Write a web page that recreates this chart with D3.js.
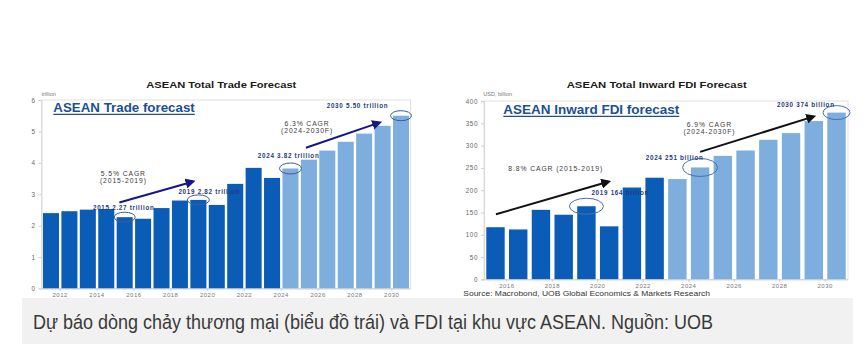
<!DOCTYPE html>
<html>
<head>
<meta charset="utf-8">
<script src="https://cdn.jsdelivr.net/npm/d3@7"></script>
<style>
  html, body { margin: 0; padding: 0; background: #fff; }
  svg { display: block; font-family: "Liberation Sans", Arial, sans-serif; }
</style>
</head>
<body>
<svg id="chart" width="868" height="350"></svg>
<script>
// ---------------- DATA ----------------
const tradeYears = [2011, 2012, 2013, 2014, 2015, 2016, 2017, 2018, 2019, 2020,
                    2021, 2022, 2023, 2024, 2025, 2026, 2027, 2028, 2029, 2030];
const tradeValues = [2.40, 2.46, 2.51, 2.53, 2.27, 2.22, 2.56, 2.80, 2.82, 2.66,
                     3.33, 3.84, 3.52, 3.82, 4.10, 4.39, 4.67, 4.93, 5.18, 5.50];
const tradeForecastFrom = 2024;
const tradeYTicks = [0, 1, 2, 3, 4, 5, 6];
const tradeXTicks = [2012, 2014, 2016, 2018, 2020, 2022, 2024, 2026, 2028, 2030];

const fdiYears = [2015, 2016, 2017, 2018, 2019, 2020, 2021, 2022,
                  2023, 2024, 2025, 2026, 2027, 2028, 2029, 2030];
const fdiValues = [117, 112, 156, 145, 164, 119, 206, 228,
                   225, 251, 277, 289, 313, 328, 355, 374];
const fdiForecastFrom = 2023;
const fdiYTicks = [0, 50, 100, 150, 200, 250, 300, 350, 400];
const fdiXTicks = [2016, 2018, 2020, 2022, 2024, 2026, 2028, 2030];

// annotation anchors in data units (year, value)
const tradeHighlights = [
  {year: 2015, text: "2015 2.27 trillion", lx: 2014.95, lv: 2.51, rx: 10.5, ry: 5},
  {year: 2019, text: "2019 2.82 trillion", lx: 2019.59, lv: 3.02, rx: 11, ry: 5},
  {year: 2024, text: "2024 3.82 trillion", lx: 2023.90, lv: 4.14, rx: 11, ry: 5.5},
  {year: 2030, text: "2030 5.50 trillion", lx: 2027.64, lv: 5.73, rx: 10.5, ry: 5}
];
const tradeCagr = [
  {lines: ["5.5% CAGR", "(2015-2019)"], x: 2014.93, v: [3.57, 3.36], from: [2014.71, 2.74], to: [2018.69, 3.40]},
  {lines: ["6.3% CAGR", "(2024-2030F)"], x: 2024.90, v: [5.16, 4.96], from: [2024.84, 4.48], to: [2028.82, 5.28]}
];
const fdiHighlights = [
  {year: 2019, text: "2019 164 billion", lx: 2020.49, lv: 189, rx: 17, ry: 8},
  {year: 2024, text: "2024 251 billion", lx: 2022.88, lv: 267, rx: 17.5, ry: 9},
  {year: 2030, text: "2030 374 billion", lx: 2028.65, lv: 386, rx: 13.5, ry: 7}
];
const fdiCagr = [
  {lines: ["8.8% CAGR (2015-2019)"], x: 2017.65, v: [243], from: [2015.02, 146], to: [2019.96, 219]},
  {lines: ["6.9% CAGR", "(2024-2030F)"], x: 2024.41, v: [341, 326], from: [2024.00, 286], to: [2028.98, 365]}
];

// ---------------- DRAW ----------------
const svg = d3.select("#chart");
const defs = svg.append("defs");
function marker(id, color) {
  defs.append("marker").attr("id", id).attr("viewBox", "0 0 10 10")
    .attr("refX", 7).attr("refY", 5).attr("markerWidth", 5).attr("markerHeight", 5)
    .attr("orient", "auto")
    .append("path").attr("d", "M0,0 L10,5 L0,10 z").attr("fill", color);
}
marker("arrNavy", "#16168a");
marker("arrBlack", "#111");

function txt(g, str, x, y, o) {
  const t = g.append("text").attr("x", x).attr("y", y).text(str)
    .attr("font-size", o.size || 7)
    .attr("fill", o.color || "#333")
    .attr("text-anchor", o.anchor || "start");
  if (o.bold) t.attr("font-weight", "bold");
  if (o.width) t.attr("textLength", o.width).attr("lengthAdjust", "spacingAndGlyphs");
  if (o.ls) t.attr("letter-spacing", o.ls);
  return t;
}

function drawChart(cfg) {
  const g = svg.append("g");
  const x = d3.scaleBand().domain(cfg.years).range(cfg.xRange)
    .paddingInner(cfg.padIn).paddingOuter(cfg.padOut);
  const y = d3.scaleLinear().domain(cfg.yDomain).range(cfg.yRange);
  const step = x.step(), bw = x.bandwidth();
  const xc = t => x(cfg.years[0]) + bw / 2 + (t - cfg.years[0]) * step;
  const boundary = yr => x(yr) - step * cfg.padIn / 2;

  // title
  txt(g, cfg.title, cfg.titleX, 87.5, {size: 8.5, bold: true, color: "#1a1a1a", anchor: "middle", width: cfg.titleW});
  // unit
  txt(g, cfg.unit, cfg.xRange[0] + cfg.unitDx, 95.8, {size: 5.5, color: "#777"});

  // frame
  g.append("rect").attr("x", cfg.xRange[0]).attr("y", y(cfg.yDomain[1]))
    .attr("width", cfg.xRange[1] - cfg.xRange[0]).attr("height", y(0) - y(cfg.yDomain[1]))
    .attr("fill", "none").attr("stroke", "#e2e2e2").attr("stroke-width", 1);

  // y axis
  const ya = d3.axisLeft(y).tickValues(cfg.yTicks).tickFormat(d3.format("d")).tickSize(3).tickPadding(3);
  const yg = g.append("g").attr("transform", `translate(${cfg.xRange[0]},0)`).call(ya);
  yg.select(".domain").attr("stroke", "#d8d8d8");
  yg.selectAll(".tick line").attr("stroke", "#cfcfcf");
  yg.selectAll(".tick text").attr("font-size", 6.3).attr("fill", "#666")
    .attr("font-family", "Liberation Sans, Arial").attr("letter-spacing", 0.6);

  // bars
  g.selectAll("rect.bar").data(cfg.years).join("rect").attr("class", "bar")
    .attr("x", d => x(d)).attr("width", bw)
    .attr("y", (d, i) => y(cfg.values[i]))
    .attr("height", (d, i) => y(0) - y(cfg.values[i]))
    .attr("fill", d => d >= cfg.forecastFrom ? "#7eaedd" : "#0b5cb7");

  // x axis
  const xg = g.append("g");
  xg.append("line").attr("x1", cfg.xRange[0]).attr("x2", cfg.xRange[1])
    .attr("y1", y(0) + 0.5).attr("y2", y(0) + 0.5).attr("stroke", "#d0d0d0");
  cfg.xTicks.forEach(yr => {
    const px = boundary(yr);
    xg.append("line").attr("x1", px).attr("x2", px).attr("y1", y(0)).attr("y2", y(0) + 2.5)
      .attr("stroke", "#cfcfcf");
    txt(xg, String(yr), px, y(0) + cfg.xLabelDy, {size: 6, color: "#777", anchor: "middle", ls: 0.5});
  });

  // heading
  txt(g, cfg.heading, cfg.headX, cfg.headY, {size: 13.5, bold: true, color: "#1c4f94", width: cfg.headW});
  g.append("line").attr("x1", cfg.headX).attr("x2", cfg.headX + cfg.headW)
    .attr("y1", cfg.headY + 2.3).attr("y2", cfg.headY + 2.3)
    .attr("stroke", "#1c4f94").attr("stroke-width", 1.2);

  // CAGR annotations
  cfg.cagr.forEach(c => {
    c.lines.forEach((ln, k) => {
      txt(g, ln, xc(c.x), y(c.v[k]), {size: 6.8, color: "#3a3a3a", anchor: "middle", ls: 0.9});
    });
    g.append("line").attr("x1", xc(c.from[0])).attr("y1", y(c.from[1]))
      .attr("x2", xc(c.to[0])).attr("y2", y(c.to[1]))
      .attr("stroke", cfg.arrowColor).attr("stroke-width", 2)
      .attr("marker-end", `url(#${cfg.arrowMarker})`);
  });

  // highlights
  cfg.highlights.forEach(h => {
    const i = cfg.years.indexOf(h.year);
    g.append("ellipse").attr("cx", x(h.year) + bw / 2).attr("cy", y(cfg.values[i]))
      .attr("rx", h.rx).attr("ry", h.ry).attr("fill", "none")
      .attr("stroke", cfg.ellipseColor).attr("stroke-width", 1);
    txt(g, h.text, xc(h.lx), y(h.lv), {size: 6.3, bold: true, color: "#1f3b7a", anchor: "middle", ls: 0.7});
  });
  return {x, y};
}

drawChart({
  years: tradeYears, values: tradeValues, forecastFrom: tradeForecastFrom,
  xRange: [41.5, 410.5], padIn: 0.13, padOut: 0.08,
  yDomain: [0, 6], yRange: [288.5, 100], yTicks: tradeYTicks, xTicks: tradeXTicks,
  xLabelDy: 8,
  title: "ASEAN Total Trade Forecast", titleX: 221.3, titleW: 150,
  unit: "trillion", unitDx: 0,
  heading: "ASEAN Trade forecast", headX: 53.3, headY: 112, headW: 141.5,
  cagr: tradeCagr, highlights: tradeHighlights,
  arrowColor: "#16168a", arrowMarker: "arrNavy", ellipseColor: "#3f5c96"
});

drawChart({
  years: fdiYears, values: fdiValues, forecastFrom: fdiForecastFrom,
  xRange: [484, 848], padIn: 0.19, padOut: 0.1,
  yDomain: [0, 400], yRange: [279.4, 101], yTicks: fdiYTicks, xTicks: fdiXTicks,
  xLabelDy: 8.5,
  title: "ASEAN Total Inward FDI Forecast", titleX: 656.7, titleW: 180,
  unit: "USD, billion", unitDx: -0.7,
  heading: "ASEAN Inward FDI forecast", headX: 503.3, headY: 114, headW: 176,
  cagr: fdiCagr, highlights: fdiHighlights,
  arrowColor: "#111", arrowMarker: "arrBlack", ellipseColor: "#4a70a8"
});

// source
txt(svg, "Source: Macrobond, UOB Global Economics & Markets Research", 463.3, 295.6,
    {size: 6.3, color: "#333", width: 246.7});

// caption box
svg.append("rect").attr("x", 22).attr("y", 298).attr("width", 831).attr("height", 46).attr("fill", "#f1f1f1");
txt(svg, "Dự báo dòng chảy thương mại (biểu đồ trái) và FDI tại khu vực ASEAN. Nguồn: UOB", 33, 328.5,
    {size: 20.5, color: "#3a3a3a", width: 680}).attr("font-family", "'Liberation Sans Narrow', 'Liberation Sans', Arial, sans-serif");
</script>
</body>
</html>
